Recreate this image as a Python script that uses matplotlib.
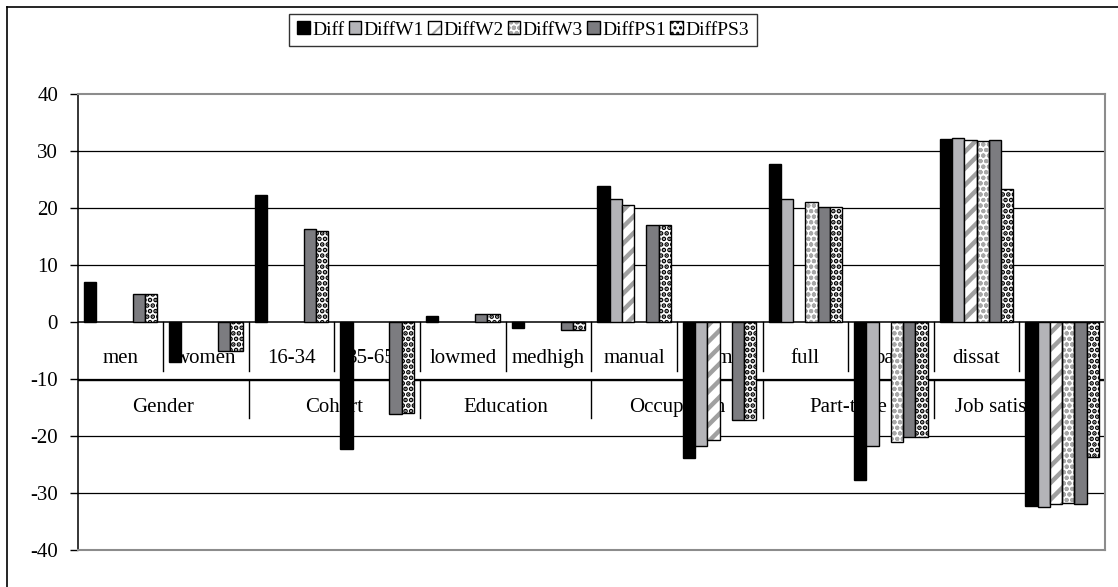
import numpy as np
import matplotlib
matplotlib.use("Agg")
import matplotlib.pyplot as plt
from matplotlib.patches import Patch
from matplotlib.lines import Line2D

plt.rcParams['font.family'] = ['Liberation Serif', 'DejaVu Serif']

categories = ['men', 'women', '16-34', '35-65+', 'lowmed', 'medhigh',
              'manual', 'nonman', 'full', 'part', 'dissat', 'sat']
groups = ['Gender', 'Cohort', 'Education', 'Occupation', 'Part-time', 'Job satisfaction']
series = ['Diff', 'DiffW1', 'DiffW2', 'DiffW3', 'DiffPS1', 'DiffPS3']
nan = np.nan
diff    = [7.1, -7.1, 22.3, -22.3, 1.1, -1.1, 23.9, -23.9, 27.7, -27.7, 32.1, -32.2]
diffw1  = [nan, nan, nan, nan, nan, nan, 21.6, -21.7, 21.6, -21.7, 32.3, -32.5]
diffw2  = [nan, nan, nan, nan, nan, nan, 20.6, -20.7, nan, nan, 32.0, -32.0]
diffw3  = [nan, nan, nan, nan, nan, nan, nan, nan, 21.0, -21.0, 31.7, -31.8]
diffps1 = [5.0, -5.1, 16.3, -16.2, 1.4, -1.4, 17.1, -17.2, 20.1, -20.1, 32.0, -32.0]
diffps3 = [5.0, -5.1, 16.0, -15.9, 1.4, -1.4, 17.0, -17.2, 20.1, -20.1, 23.4, -23.6]
values = [diff, diffw1, diffw2, diffw3, diffps1, diffps3]
yticks = [-40, -30, -20, -10, 0, 10, 20, 30, 40]

# style: (facecolor, hatch, hatchcolor, hatch linewidth)
styles = [
    ('#000000', None, None, 1.0),
    ('#b4b4b8', None, None, 1.0),
    ('#ffffff', '//', '#a0a0a0', 3.2),
    ('#ffffff', 'ooo', '#a8a8a8', 1.4),
    ('#7c7c80', None, None, 1.0),
    ('#ffffff', '...', '#000000', 2.4),
]

fig = plt.figure(figsize=(11.18, 5.87), dpi=100)
L, R, T, B = 77.5, 1105, 94, 550
ax = fig.add_axes([L/1118, 1-B/587, (R-L)/1118, (B-T)/587])

x = np.arange(len(categories))
w = 1/7

def draw_bars(target_ax, xs, vals, st, width):
    fc, hatch, hc, hlw = st
    plt.rcParams['hatch.linewidth'] = hlw
    if hatch:
        plt.rcParams['hatch.color'] = hc
        b = target_ax.bar(xs, vals, width, color=fc, edgecolor=hc, hatch=hatch,
                          linewidth=0, zorder=3)
        for p in b:
            try:
                p.set_hatch_linewidth(hlw)
            except Exception:
                pass
        target_ax.bar(xs, vals, width, fill=False, edgecolor='black',
                      linewidth=1.0, zorder=4)
    else:
        target_ax.bar(xs, vals, width, color=fc, edgecolor='black',
                      linewidth=1.0, zorder=3)

for j, (vals, st) in enumerate(zip(values, styles)):
    draw_bars(ax, x + (j - 2.5) * w, np.array(vals, dtype=float), st, w)

ax.set_xlim(-0.5, len(categories) - 0.5)
ax.set_ylim(-40, 40)
ax.set_yticks(yticks)
ax.set_yticklabels([str(t) for t in yticks], fontsize=15)
ax.tick_params(axis='y', direction='out', length=6, width=1, pad=8, colors='black')
ax.set_xticks([])

for t in yticks:
    if t in (-40, 40, 0):
        continue
    ax.axhline(t, color='black', lw=0.9, zorder=1)
ax.axhline(0, color='black', lw=1.1, zorder=2)

for s in ['top', 'right', 'bottom']:
    ax.spines[s].set_color('#8c8c8c')
    ax.spines[s].set_linewidth(1.5)
ax.spines['left'].set_color('black')
ax.spines['left'].set_linewidth(1.1)

# multi-level category axis
for i, c in enumerate(categories):
    ax.text(i, -7.2, c, ha='center', va='baseline', fontsize=15, zorder=2)
for i in range(1, len(categories) + 1):
    ax.plot([i - 0.5, i - 0.5], [0, -8.6], color='black', lw=1, zorder=2)
ax.plot([-0.5, len(categories) - 0.5], [-10.2, -10.2], color='black', lw=1, zorder=2)
for g, name in enumerate(groups):
    ax.text(2 * g + 0.5, -15.8, name, ha='center', va='baseline', fontsize=15, zorder=2)
    ax.plot([2 * g + 1.5, 2 * g + 1.5], [-10.2, -16.8], color='black', lw=1, zorder=2)

# legend
handles = []
for st, name in zip(styles, series):
    fc, hatch, hc, hlw = st
    if hatch:
        plt.rcParams['hatch.color'] = hc
        plt.rcParams['hatch.linewidth'] = min(hlw, 1.5)
        h = Patch(facecolor=fc, edgecolor=hc, hatch=hatch, linewidth=0)
        h2 = Patch(facecolor='none', edgecolor='black', linewidth=1)
        handles.append((h, h2))
    else:
        handles.append(Patch(facecolor=fc, edgecolor='black', linewidth=1))
leg = fig.legend(handles, series, loc='center', bbox_to_anchor=(523/1118, 1-30/587),
                 ncol=6, fontsize=14, frameon=True, fancybox=False,
                 handlelength=0.65, handleheight=0.65, handletextpad=0.12,
                 columnspacing=0.22, borderpad=0.4, borderaxespad=0)
leg.get_frame().set_edgecolor('black')
leg.get_frame().set_linewidth(1)

# outer chart frame
fig.add_artist(Line2D([7/1118, 7/1118], [0, 1-7/587], transform=fig.transFigure,
                      color='black', lw=1.2))
fig.add_artist(Line2D([7/1118, 1], [1-7/587, 1-7/587], transform=fig.transFigure,
                      color='black', lw=1.2))

fig.savefig('out.png', dpi=100)
